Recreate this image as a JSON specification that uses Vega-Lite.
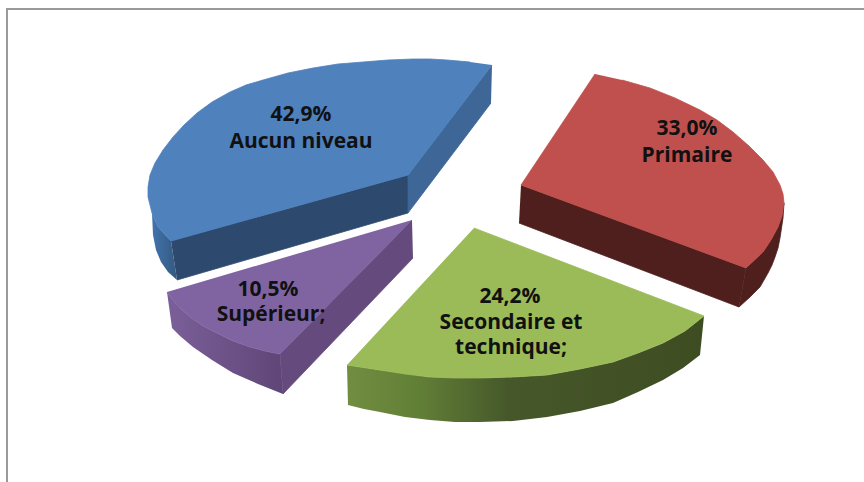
{"$schema":"https://vega.github.io/schema/vega-lite/v6.json","autosize":"none","width":864,"height":482,"padding":0,"background":"white","view":{"stroke":null},
"datasets":{
"frame":[{"i":0,"x":7,"y":482},{"i":1,"x":7,"y":9},{"i":2,"x":864,"y":9}],
"green_side":[{"i":0,"x":704,"y":316},{"i":1,"x":685,"y":331},{"i":2,"x":663,"y":343},{"i":3,"x":638,"y":353},{"i":4,"x":613,"y":362},{"i":5,"x":580,"y":369},{"i":6,"x":547,"y":375},{"i":7,"x":513,"y":377},{"i":8,"x":480,"y":378},{"i":9,"x":430,"y":377},{"i":10,"x":380,"y":370},{"i":11,"x":347,"y":365},{"i":12,"x":348,"y":405},{"i":13,"x":364,"y":409},{"i":14,"x":380,"y":412},{"i":15,"x":405,"y":417},{"i":16,"x":430,"y":420},{"i":17,"x":455,"y":422},{"i":18,"x":480,"y":422},{"i":19,"x":513,"y":421},{"i":20,"x":547,"y":417},{"i":21,"x":580,"y":411},{"i":22,"x":613,"y":403},{"i":23,"x":638,"y":392},{"i":24,"x":663,"y":380},{"i":25,"x":683,"y":368},{"i":26,"x":700,"y":355}],
"purple_side":[{"i":0,"x":167,"y":292},{"i":1,"x":177,"y":305},{"i":2,"x":190,"y":317},{"i":3,"x":203,"y":326},{"i":4,"x":217,"y":333},{"i":5,"x":233,"y":341},{"i":6,"x":250,"y":347},{"i":7,"x":265,"y":351},{"i":8,"x":280,"y":354},{"i":9,"x":283,"y":394},{"i":10,"x":258,"y":384},{"i":11,"x":233,"y":373},{"i":12,"x":212,"y":360},{"i":13,"x":193,"y":347},{"i":14,"x":180,"y":336},{"i":15,"x":172,"y":328}],
"blue_left":[{"i":0,"x":152,"y":213},{"i":1,"x":158,"y":227},{"i":2,"x":171,"y":241},{"i":3,"x":177,"y":280},{"i":4,"x":168,"y":272},{"i":5,"x":161,"y":262},{"i":6,"x":156,"y":250},{"i":7,"x":153,"y":235}],
"flat":[
{"face":"a blue front","i":0,"x":171,"y":241},{"face":"a blue front","i":1,"x":408,"y":175},{"face":"a blue front","i":2,"x":408,"y":213},{"face":"a blue front","i":3,"x":177,"y":280},
{"face":"b blue right","i":0,"x":492,"y":65},{"face":"b blue right","i":1,"x":408,"y":175},{"face":"b blue right","i":2,"x":408,"y":213},{"face":"b blue right","i":3,"x":491,"y":103},
{"face":"c red front","i":0,"x":521,"y":185},{"face":"c red front","i":1,"x":746,"y":268},{"face":"c red front","i":2,"x":739,"y":307},{"face":"c red front","i":3,"x":519,"y":223},
{"face":"d red outer","i":0,"x":746,"y":268},{"face":"d red outer","i":1,"x":763,"y":252},{"face":"d red outer","i":2,"x":771,"y":240},{"face":"d red outer","i":3,"x":778,"y":227},{"face":"d red outer","i":4,"x":782,"y":216},{"face":"d red outer","i":5,"x":784,"y":203},{"face":"d red outer","i":6,"x":783,"y":218},{"face":"d red outer","i":7,"x":780,"y":238},{"face":"d red outer","i":8,"x":778,"y":248},{"face":"d red outer","i":9,"x":775,"y":257},{"face":"d red outer","i":10,"x":772,"y":265},{"face":"d red outer","i":11,"x":768,"y":273},{"face":"d red outer","i":12,"x":764,"y":280},{"face":"d red outer","i":13,"x":760,"y":287},{"face":"d red outer","i":14,"x":750,"y":297},{"face":"d red outer","i":15,"x":739,"y":307},
{"face":"e purple inner","i":0,"x":412,"y":220},{"face":"e purple inner","i":1,"x":280,"y":354},{"face":"e purple inner","i":2,"x":283,"y":394},{"face":"e purple inner","i":3,"x":413,"y":258},
{"face":"f blue top","i":0,"x":492,"y":65},{"face":"f blue top","i":1,"x":408,"y":175},{"face":"f blue top","i":2,"x":171,"y":241},{"face":"f blue top","i":3,"x":158,"y":227},{"face":"f blue top","i":4,"x":152,"y":213},{"face":"f blue top","i":5,"x":148,"y":197},{"face":"f blue top","i":6,"x":148,"y":187},{"face":"f blue top","i":7,"x":150,"y":175},{"face":"f blue top","i":8,"x":155,"y":163},{"face":"f blue top","i":9,"x":163,"y":150},{"face":"f blue top","i":10,"x":173,"y":137},{"face":"f blue top","i":11,"x":184,"y":125},{"face":"f blue top","i":12,"x":197,"y":113},{"face":"f blue top","i":13,"x":212,"y":102},{"face":"f blue top","i":14,"x":230,"y":92},{"face":"f blue top","i":15,"x":246,"y":85},{"face":"f blue top","i":16,"x":263,"y":80},{"face":"f blue top","i":17,"x":288,"y":73},{"face":"f blue top","i":18,"x":313,"y":68},{"face":"f blue top","i":19,"x":338,"y":64},{"face":"f blue top","i":20,"x":363,"y":62},{"face":"f blue top","i":21,"x":388,"y":60},{"face":"f blue top","i":22,"x":413,"y":59},{"face":"f blue top","i":23,"x":430,"y":59},{"face":"f blue top","i":24,"x":447,"y":60},{"face":"f blue top","i":25,"x":470,"y":62},
{"face":"g red top","i":0,"x":595,"y":74},{"face":"g red top","i":1,"x":521,"y":185},{"face":"g red top","i":2,"x":746,"y":268},{"face":"g red top","i":3,"x":763,"y":252},{"face":"g red top","i":4,"x":771,"y":240},{"face":"g red top","i":5,"x":778,"y":227},{"face":"g red top","i":6,"x":782,"y":216},{"face":"g red top","i":7,"x":784,"y":203},{"face":"g red top","i":8,"x":783,"y":194},{"face":"g red top","i":9,"x":780,"y":185},{"face":"g red top","i":10,"x":773,"y":172},{"face":"g red top","i":11,"x":763,"y":160},{"face":"g red top","i":12,"x":749,"y":146},{"face":"g red top","i":13,"x":733,"y":132},{"face":"g red top","i":14,"x":717,"y":120},{"face":"g red top","i":15,"x":700,"y":110},{"face":"g red top","i":16,"x":675,"y":98},{"face":"g red top","i":17,"x":650,"y":88},{"face":"g red top","i":18,"x":622,"y":80},
{"face":"h green top","i":0,"x":474,"y":228},{"face":"h green top","i":1,"x":704,"y":316},{"face":"h green top","i":2,"x":685,"y":331},{"face":"h green top","i":3,"x":663,"y":343},{"face":"h green top","i":4,"x":638,"y":353},{"face":"h green top","i":5,"x":613,"y":362},{"face":"h green top","i":6,"x":580,"y":369},{"face":"h green top","i":7,"x":547,"y":375},{"face":"h green top","i":8,"x":513,"y":377},{"face":"h green top","i":9,"x":480,"y":378},{"face":"h green top","i":10,"x":455,"y":378},{"face":"h green top","i":11,"x":430,"y":377},{"face":"h green top","i":12,"x":405,"y":374},{"face":"h green top","i":13,"x":380,"y":370},{"face":"h green top","i":14,"x":347,"y":365},
{"face":"i purple top","i":0,"x":412,"y":220},{"face":"i purple top","i":1,"x":280,"y":354},{"face":"i purple top","i":2,"x":265,"y":351},{"face":"i purple top","i":3,"x":250,"y":347},{"face":"i purple top","i":4,"x":233,"y":341},{"face":"i purple top","i":5,"x":217,"y":333},{"face":"i purple top","i":6,"x":203,"y":326},{"face":"i purple top","i":7,"x":190,"y":317},{"face":"i purple top","i":8,"x":177,"y":305},{"face":"i purple top","i":9,"x":167,"y":292}
],
"labels":[{"text":"42,9%","x":301,"y":115},{"text":"Aucun niveau","x":301,"y":142},{"text":"33,0%","x":687,"y":129},{"text":"Primaire","x":687,"y":156},{"text":"24,2%","x":510,"y":297},{"text":"Secondaire et","x":511,"y":323},{"text":"technique;","x":511,"y":348},{"text":"10,5%","x":268,"y":290},{"text":"Supérieur;","x":271,"y":315}]
},
"encoding":{"x":{"field":"x","type":"quantitative","axis":null,"scale":{"domain":[0,864],"nice":false,"zero":false}},"y":{"field":"y","type":"quantitative","axis":null,"scale":{"domain":[482,0],"nice":false,"zero":false}}},
"layer":[
{"data":{"name":"frame"},"mark":{"type":"line","stroke":"#9a9a9a","strokeWidth":2},"encoding":{"order":{"field":"i"}}},
{"data":{"name":"green_side"},"mark":{"type":"line","filled":true,"strokeWidth":0,"fill":{"gradient":"linear","x1":0,"y1":0,"x2":1,"y2":0,"stops":[{"offset":0,"color":"#708d40"},{"offset":0.2,"color":"#627f37"},{"offset":0.45,"color":"#46582a"},{"offset":1,"color":"#3e4c22"}]}},"encoding":{"order":{"field":"i"}}},
{"data":{"name":"purple_side"},"mark":{"type":"line","filled":true,"strokeWidth":0,"fill":{"gradient":"linear","x1":0,"y1":0,"x2":1,"y2":0,"stops":[{"offset":0,"color":"#7b5f99"},{"offset":1,"color":"#5f4677"}]}},"encoding":{"order":{"field":"i"}}},
{"data":{"name":"blue_left"},"mark":{"type":"line","filled":true,"strokeWidth":0,"fill":{"gradient":"linear","x1":0,"y1":0,"x2":1,"y2":0,"stops":[{"offset":0,"color":"#4273ad"},{"offset":1,"color":"#34597f"}]}},"encoding":{"order":{"field":"i"}}},
{"data":{"name":"flat"},"mark":{"type":"line","filled":true,"strokeWidth":0.8},"encoding":{"order":{"field":"i"},"stroke":{"field":"face","type":"nominal","legend":null,"scale":{"domain":["a blue front","b blue right","c red front","d red outer","e purple inner","f blue top","g red top","h green top","i purple top"],"range":["#2d4a6e","#3e6696","#4e1f1c","#4e1f1c","#654b7d","#4f81bd","#c0504d","#9bbb59","#8064a2"]}},"color":{"field":"face","type":"nominal","legend":null,"scale":{"domain":["a blue front","b blue right","c red front","d red outer","e purple inner","f blue top","g red top","h green top","i purple top"],"range":["#2d4a6e","#3e6696","#4e1f1c","#4e1f1c","#654b7d","#4f81bd","#c0504d","#9bbb59","#8064a2"]}}}},
{"data":{"name":"labels"},"mark":{"type":"text","font":"Open Sans","fontWeight":"bold","fontSize":21,"align":"center","baseline":"middle","color":"#111111"},"encoding":{"text":{"field":"text","type":"nominal"}}}
]}
